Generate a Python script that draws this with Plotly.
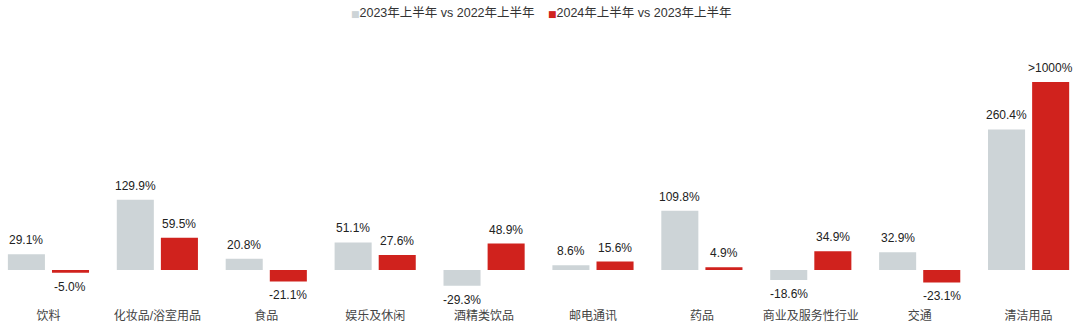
import plotly.graph_objects as go

categories = ["饮料", "化妆品/浴室用品", "食品", "娱乐及休闲", "酒精类饮品",
              "邮电通讯", "药品", "商业及服务性行业", "交通", "清洁用品"]
gray_values = [29.1, 129.9, 20.8, 51.1, -29.3, 8.6, 109.8, -18.6, 32.9, 260.4]
red_values = [-5.0, 59.5, -21.1, 27.6, 48.9, 15.6, 4.9, 34.9, -23.1, 1000.0]
series_names = ["2023年上半年 vs 2022年上半年", "2024年上半年 vs 2023年上半年"]

DISPLAY_CAP = 348  # bars above this are drawn capped (axis break)
GRAY = "#CDD4D7"
RED = "#D0221D"
FONT = "Liberation Sans, Arial, Noto Sans CJK SC, sans-serif"

def label(v):
    return ">1000%" if v >= 1000 else f"{v:.1f}%"

x_idx = list(range(len(categories)))
gray_disp = [min(v, DISPLAY_CAP) for v in gray_values]
red_disp = [min(v, DISPLAY_CAP) for v in red_values]

fig = go.Figure()
fig.add_bar(x=x_idx, y=gray_disp, name=series_names[0], marker_color=GRAY,
            marker_line_width=0, showlegend=False)
fig.add_bar(x=x_idx, y=red_disp, name=series_names[1], marker_color=RED,
            marker_line_width=0, showlegend=False)

annotations = []
for vals, disp, shift in [(gray_values, gray_disp, -22), (red_values, red_disp, 22)]:
    for i, (v, d) in enumerate(zip(vals, disp)):
        annotations.append(dict(
            x=i, y=d, xref="x", yref="y", text=label(v), showarrow=False,
            xshift=shift, yshift=5 if v >= 0 else -5,
            yanchor="bottom" if v >= 0 else "top",
            font=dict(family=FONT, size=12, color="#222222")))

# legend drawn as text keys
for name, col, xpos in [(series_names[0], GRAY, 349 / 1080), (series_names[1], RED, 546 / 1080)]:
    annotations.append(dict(
        x=xpos, y=1.101, xref="paper", yref="paper", xanchor="left", yanchor="middle",
        showarrow=False,
        text=f"<span style='color:{col};font-family:DejaVu Sans;font-size:9px'>■</span>{name}",
        font=dict(family=FONT, size=12.5, color="#333333")))

fig.update_layout(
    width=1080, height=333,
    margin=dict(l=0, r=0, t=40, b=26),
    paper_bgcolor="white", plot_bgcolor="white",
    barmode="group", bargap=0.19, bargroupgap=0.16,
    font=dict(family=FONT, size=12, color="#333333"),
    annotations=annotations,
    showlegend=False,
)
fig.update_xaxes(tickmode="array", tickvals=x_idx, ticktext=categories,
                 range=[-0.445, 9.472], showgrid=False, zeroline=False,
                 showline=False, tickfont=dict(family=FONT, size=12, color="#444444"))
fig.update_yaxes(range=[-68.5, 425.9], visible=False, showgrid=False, zeroline=False)

fig.write_html("out.html")
